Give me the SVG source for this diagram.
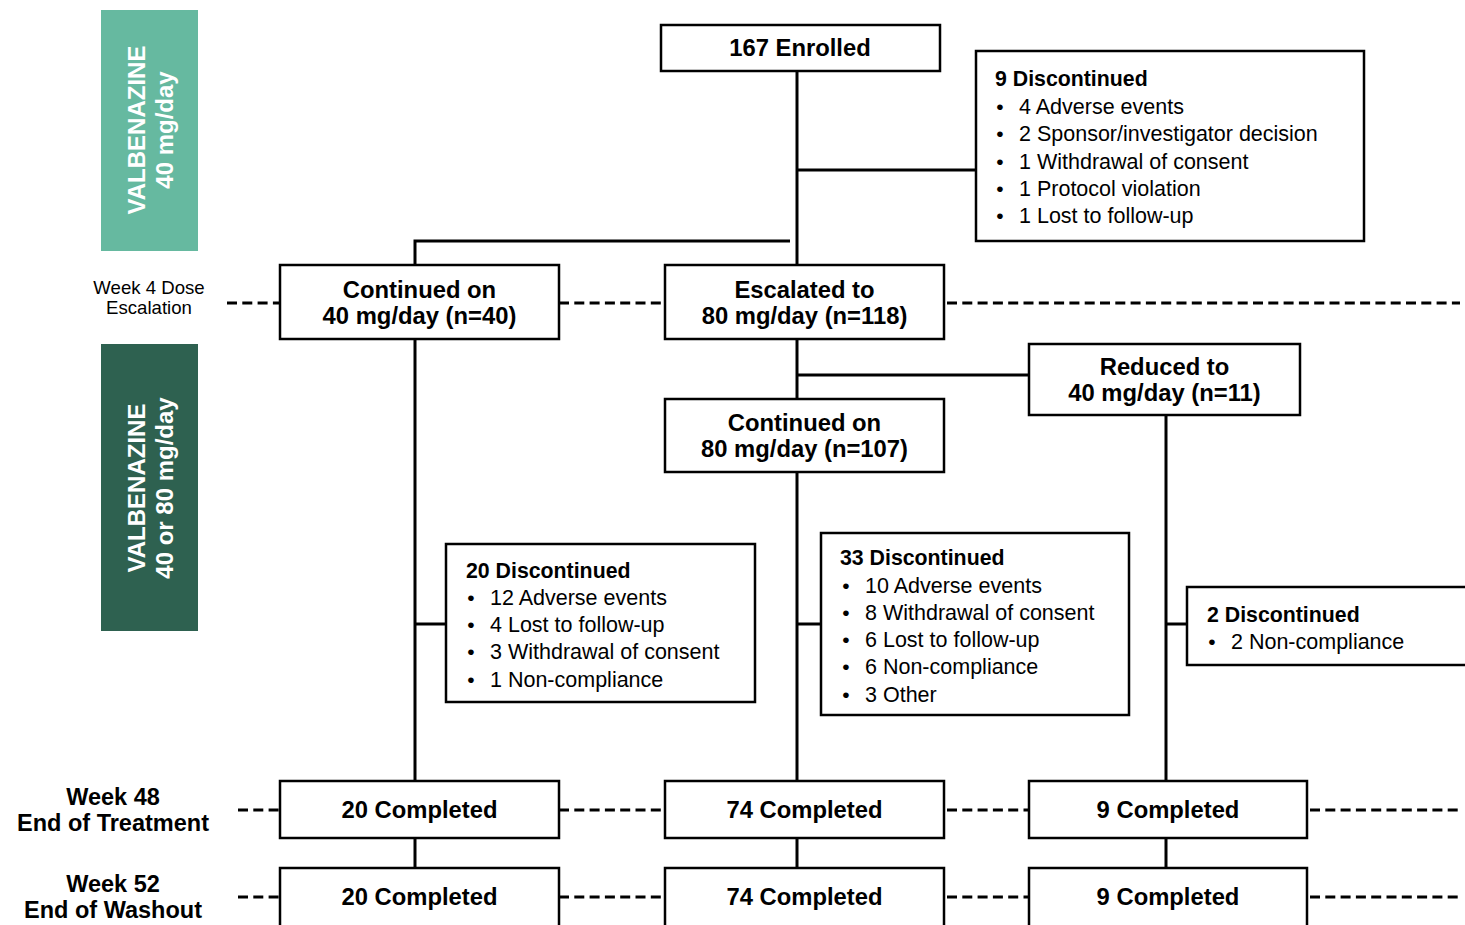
<svg xmlns="http://www.w3.org/2000/svg" width="1465" height="925" viewBox="0 0 1465 925">
<style>
.box{fill:#fff;stroke:#000;stroke-width:2.5}
.ln{fill:none;stroke:#000;stroke-width:3}
.dash{fill:none;stroke:#000;stroke-width:3;stroke-dasharray:10 5.3}
text{font-family:"Liberation Sans",Arial,sans-serif;fill:#000}
.h{font-size:23.8px;font-weight:bold;text-anchor:middle}
.t{font-size:21.3px;font-weight:bold}
.b{font-size:21.5px}
.bul{font-size:21px;text-anchor:middle}
.side{font-size:24px;font-weight:bold;fill:#fff;text-anchor:middle}
.wk{font-size:23.5px;font-weight:bold;text-anchor:middle}
.wk4{font-size:18.6px;text-anchor:middle}
</style>
<rect width="1465" height="925" fill="#fff"/>
<g id="bar1">
<rect x="101" y="10" width="97" height="241" fill="#66b9a0"/>
<text class="side" transform="translate(145,130) rotate(-90)">VALBENAZINE</text>
<text class="side" transform="translate(173,130) rotate(-90)">40 mg/day</text>
</g>
<g id="bar2">
<rect x="101" y="344" width="97" height="287" fill="#2e6150"/>
<text class="side" transform="translate(145,488) rotate(-90)">VALBENAZINE</text>
<text class="side" transform="translate(173,488) rotate(-90)">40 or 80 mg/day</text>
</g>
<g id="labels">
<text class="wk4" x="149" y="294">Week 4 Dose</text>
<text class="wk4" x="149" y="314">Escalation</text>
<text class="wk" x="113" y="805">Week 48</text>
<text class="wk" x="113" y="831">End of Treatment</text>
<text class="wk" x="113" y="892">Week 52</text>
<text class="wk" x="113" y="918">End of Washout</text>
</g>
<g id="guides">
<path class="dash" d="M227,303H280M559,303H665M947,303H1460"/>
<path class="dash" d="M238,810H280M559,810H665M947,810H1029M1310,810H1460"/>
<path class="dash" d="M238,897H280M559,897H665M947,897H1029M1310,897H1460"/>
</g>
<g id="connectors">
<path class="ln" d="M797,71V265"/>
<path class="ln" d="M797,170H976"/>
<path class="ln" d="M415,265V241H790"/>
<path class="ln" d="M797,339V399"/>
<path class="ln" d="M797,375H1029"/>
<path class="ln" d="M415,339V781"/>
<path class="ln" d="M797,472V781"/>
<path class="ln" d="M1166,415V781"/>
<path class="ln" d="M415,624H446"/>
<path class="ln" d="M797,624H821"/>
<path class="ln" d="M1166,624H1187"/>
<path class="ln" d="M415,838V868M797,838V868M1166,838V868"/>
</g>
<g id="enrolled">
<rect class="box" x="661" y="25" width="279" height="46"/>
<text class="h" x="800" y="56">167 Enrolled</text>
</g>
<g id="disc9">
<rect class="box" x="976" y="51" width="388" height="190"/>
<text class="t" x="995" y="85.5">9 Discontinued</text>
<text class="bul" x="1000" y="113.5">•</text><text class="b" x="1019" y="113.5">4 Adverse events</text>
<text class="bul" x="1000" y="141">•</text><text class="b" x="1019" y="141">2 Sponsor/investigator decision</text>
<text class="bul" x="1000" y="168.5">•</text><text class="b" x="1019" y="168.5">1 Withdrawal of consent</text>
<text class="bul" x="1000" y="195.5">•</text><text class="b" x="1019" y="195.5">1 Protocol violation</text>
<text class="bul" x="1000" y="222.5">•</text><text class="b" x="1019" y="222.5">1 Lost to follow-up</text>
</g>
<g id="cont40">
<rect class="box" x="280" y="265" width="279" height="74"/>
<text class="h" x="419.5" y="297.5">Continued on</text>
<text class="h" x="419.5" y="323.5">40 mg/day (n=40)</text>
</g>
<g id="esc80">
<rect class="box" x="665" y="265" width="279" height="74"/>
<text class="h" x="804.5" y="297.5">Escalated to</text>
<text class="h" x="804.5" y="323.5">80 mg/day (n=118)</text>
</g>
<g id="reduced">
<rect class="box" x="1029" y="344" width="271" height="71"/>
<text class="h" x="1164.5" y="375">Reduced to</text>
<text class="h" x="1164.5" y="400.5">40 mg/day (n=11)</text>
</g>
<g id="cont80">
<rect class="box" x="665" y="399" width="279" height="73"/>
<text class="h" x="804.5" y="430.5">Continued on</text>
<text class="h" x="804.5" y="456.5">80 mg/day (n=107)</text>
</g>
<g id="disc20">
<rect class="box" x="446" y="544" width="309" height="158"/>
<text class="t" x="466" y="577.5">20 Discontinued</text>
<text class="bul" x="471" y="604.5">•</text><text class="b" x="490" y="604.5">12 Adverse events</text>
<text class="bul" x="471" y="631.5">•</text><text class="b" x="490" y="631.5">4 Lost to follow-up</text>
<text class="bul" x="471" y="659">•</text><text class="b" x="490" y="659">3 Withdrawal of consent</text>
<text class="bul" x="471" y="686.5">•</text><text class="b" x="490" y="686.5">1 Non-compliance</text>
</g>
<g id="disc33">
<rect class="box" x="821" y="533" width="308" height="182"/>
<text class="t" x="840" y="564.5">33 Discontinued</text>
<text class="bul" x="846" y="592.5">•</text><text class="b" x="865" y="592.5">10 Adverse events</text>
<text class="bul" x="846" y="619.5">•</text><text class="b" x="865" y="619.5">8 Withdrawal of consent</text>
<text class="bul" x="846" y="646.5">•</text><text class="b" x="865" y="646.5">6 Lost to follow-up</text>
<text class="bul" x="846" y="674">•</text><text class="b" x="865" y="674">6 Non-compliance</text>
<text class="bul" x="846" y="701.5">•</text><text class="b" x="865" y="701.5">3 Other</text>
</g>
<g id="disc2">
<rect class="box" x="1187" y="587" width="290" height="78"/>
<text class="t" x="1207" y="621.5">2 Discontinued</text>
<text class="bul" x="1212" y="648.5">•</text><text class="b" x="1231" y="648.5">2 Non-compliance</text>
</g>
<g id="c48a"><rect class="box" x="280" y="781" width="279" height="57"/><text class="h" x="419.5" y="818">20 Completed</text></g>
<g id="c48b"><rect class="box" x="665" y="781" width="279" height="57"/><text class="h" x="804.5" y="818">74 Completed</text></g>
<g id="c48c"><rect class="box" x="1029" y="781" width="278" height="57"/><text class="h" x="1168" y="818">9 Completed</text></g>
<g id="c52a"><rect class="box" x="280" y="868" width="279" height="65"/><text class="h" x="419.5" y="905">20 Completed</text></g>
<g id="c52b"><rect class="box" x="665" y="868" width="279" height="65"/><text class="h" x="804.5" y="905">74 Completed</text></g>
<g id="c52c"><rect class="box" x="1029" y="868" width="278" height="65"/><text class="h" x="1168" y="905">9 Completed</text></g>
</svg>
